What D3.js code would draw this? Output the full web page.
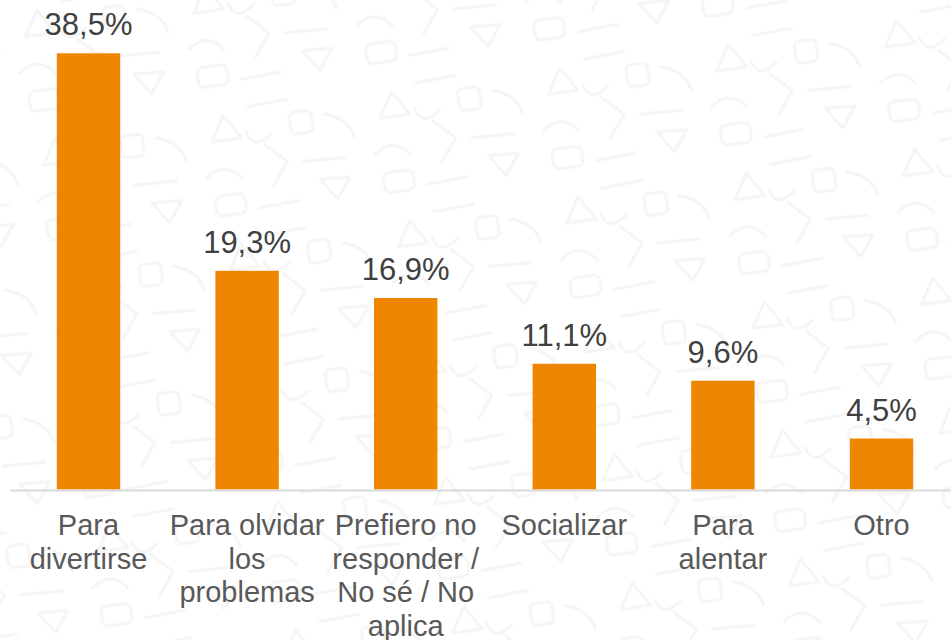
<!DOCTYPE html>
<html>
<head>
<meta charset="utf-8">
<script src="https://cdn.jsdelivr.net/npm/d3@7"></script>
<style>
  html, body { margin: 0; padding: 0; background: #ffffff; }
  svg { display: block; }
</style>
</head>
<body>
<div id="chart"></div>
<script>
const categories = [
  ["Para", "divertirse"],
  ["Para olvidar", "los", "problemas"],
  ["Prefiero no", "responder /", "No sé / No", "aplica"],
  ["Socializar"],
  ["Para", "alentar"],
  ["Otro"]
];
const values = [38.5, 19.3, 16.9, 11.1, 9.6, 4.5];
const valueLabels = ["38,5%", "19,3%", "16,9%", "11,1%", "9,6%", "4,5%"];

const W = 951, H = 640;
const svg = d3.select("#chart").append("svg").attr("width", W).attr("height", H);

// faint decorative background texture
const defs = svg.append("defs");
const pat = defs.append("pattern").attr("id", "bgpat").attr("patternUnits", "userSpaceOnUse")
  .attr("width", 170).attr("height", 130).attr("patternTransform", "rotate(-8)");
const pg = pat.append("g").attr("fill", "none").attr("stroke", "#f5f5f5").attr("stroke-width", 3)
  .attr("stroke-linecap", "round").attr("stroke-linejoin", "round");
pg.append("path").attr("d", "M20,40 L35,15 L50,40 Z");
pg.append("rect").attr("x", 100).attr("y", 22).attr("width", 22).attr("height", 22).attr("rx", 5);
pg.append("path").attr("d", "M60,10 L100,8");
pg.append("path").attr("d", "M10,75 Q30,60 45,80");
pg.append("path").attr("d", "M72,50 L92,70 L75,92");
pg.append("path").attr("d", "M108,72 L150,74");
pg.append("path").attr("d", "M122,92 L137,114 L152,94 Z");
pg.append("rect").attr("x", 15).attr("y", 95).attr("width", 30).attr("height", 20).attr("rx", 6);
pg.append("path").attr("d", "M135,28 Q158,35 162,55");
pg.append("path").attr("d", "M58,112 L98,110");
pg.append("path").attr("d", "M55,35 Q60,55 80,40");
svg.append("rect").attr("width", W).attr("height", H).attr("fill", "url(#bgpat)");

const x = d3.scaleBand()
  .domain(d3.range(values.length))
  .range([9.2, 960.8])
  .paddingInner(0.6)
  .paddingOuter(0.3);

const baseY = 489.5;
const y = d3.scaleLinear().domain([0, 40]).range([baseY, baseY - 453.2]);

// bars
svg.append("g").selectAll("rect")
  .data(values)
  .join("rect")
  .attr("x", (d, i) => x(i))
  .attr("width", x.bandwidth())
  .attr("y", d => y(d))
  .attr("height", d => baseY - y(d))
  .attr("fill", "#EE8600");

// axis line
svg.append("line")
  .attr("x1", 10).attr("x2", W)
  .attr("y1", baseY + 1).attr("y2", baseY + 1)
  .attr("stroke", "#d9d9d9").attr("stroke-width", 2);

// value labels
svg.append("g").selectAll("text")
  .data(values)
  .join("text")
  .attr("x", (d, i) => x(i) + x.bandwidth() / 2)
  .attr("y", d => y(d) - 18)
  .attr("text-anchor", "middle")
  .attr("font-family", "'Liberation Sans', Arial, sans-serif")
  .attr("font-size", 31)
  .attr("fill", "#404040")
  .text((d, i) => valueLabels[i]);

// category labels
const cg = svg.append("g");
categories.forEach((lines, i) => {
  const t = cg.append("text")
    .attr("x", x(i) + x.bandwidth() / 2)
    .attr("y", 535)
    .attr("text-anchor", "middle")
    .attr("font-family", "'Liberation Sans', Arial, sans-serif")
    .attr("font-size", 29)
    .attr("fill", "#595959");
  lines.forEach((ln, j) => {
    t.append("tspan")
      .attr("x", x(i) + x.bandwidth() / 2)
      .attr("y", 535 + j * 33.5)
      .text(ln);
  });
});
</script>
</body>
</html>
